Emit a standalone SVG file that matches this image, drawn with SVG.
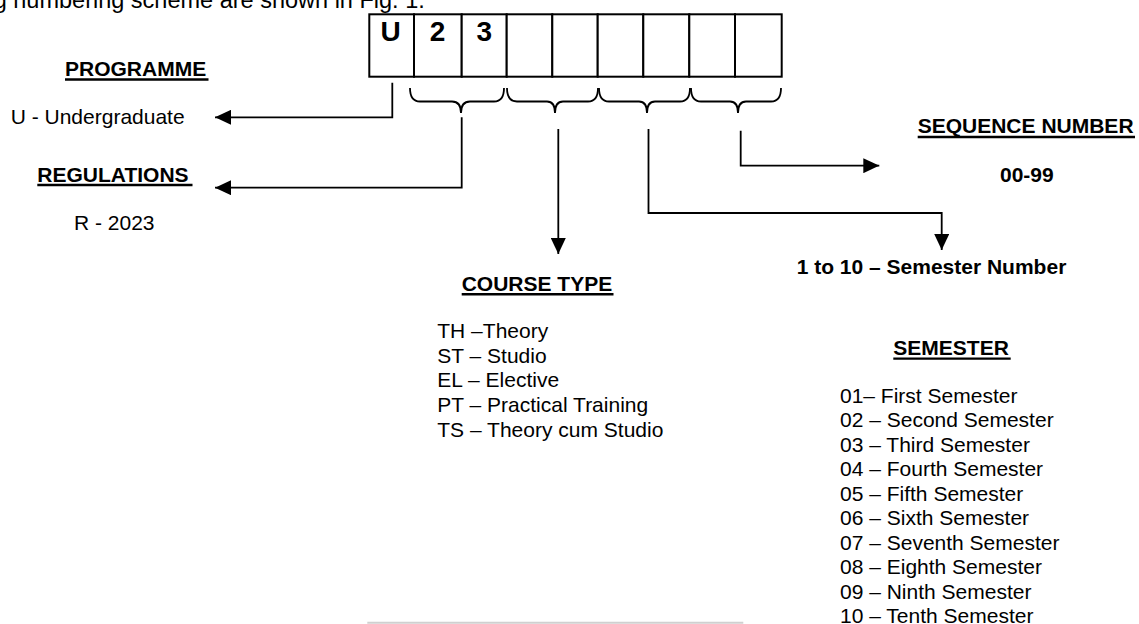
<svg xmlns="http://www.w3.org/2000/svg" width="1139" height="624" viewBox="0 0 1139 624">
<style>
text{font-family:"Liberation Sans",Arial,sans-serif;fill:#000}
.r{font-size:21px}
.b{font-size:21px;font-weight:bold}
.big{font-size:28px;font-weight:bold}
.ul{stroke:#000;stroke-width:2.4}
.cell{fill:#fff;stroke:#000;stroke-width:2}
.brace{fill:none;stroke:#000;stroke-width:1.8}
.con{fill:none;stroke:#000;stroke-width:1.8}
</style>
<defs>
<marker id="arr" markerUnits="userSpaceOnUse" markerWidth="16" markerHeight="15" refX="16" refY="7.5" orient="auto">
<path d="M0,0 L16,7.5 L0,15 z" fill="#000"/>
</marker>
</defs>
<rect width="1139" height="624" fill="#fff"/>
<text x="-6.3" y="8" style="font-size:23.5px">g numbering scheme are shown in Fig. 1.</text>

<g id="code-box">
<rect class="cell" x="369.3" y="14.3" width="44.7" height="62.4"/>
<rect class="cell" x="414" y="14.3" width="47.7" height="62.4"/>
<rect class="cell" x="461.7" y="14.3" width="45" height="62.4"/>
<rect class="cell" x="506.7" y="14.3" width="45.6" height="62.4"/>
<rect class="cell" x="552.3" y="14.3" width="45.4" height="62.4"/>
<rect class="cell" x="597.7" y="14.3" width="45.6" height="62.4"/>
<rect class="cell" x="643.3" y="14.3" width="46" height="62.4"/>
<rect class="cell" x="689.3" y="14.3" width="45.7" height="62.4"/>
<rect class="cell" x="735" y="14.3" width="46.7" height="62.4"/>
<text class="big" x="390.5" y="40.5" text-anchor="middle">U</text>
<text class="big" x="437.5" y="40.5" text-anchor="middle">2</text>
<text class="big" x="484.2" y="40.5" text-anchor="middle">3</text>
</g>

<g id="braces">
<path class="brace" d="M410,88 Q410,101.5 420,101.5 L452,101.5 Q461,101.5 461,113 Q461,101.5 470,101.5 L494,101.5 Q504,101.5 504,88"/>
<path class="brace" d="M507,88 Q507,101.5 517,101.5 L547,101.5 Q555,101.5 555,113 Q555,101.5 563,101.5 L588,101.5 Q598,101.5 598,88"/>
<path class="brace" d="M599,88 Q599,101.5 609,101.5 L639,101.5 Q647,101.5 647,113 Q647,101.5 655,101.5 L680,101.5 Q690,101.5 690,88"/>
<path class="brace" d="M691,88 Q691,101.5 701,101.5 L730,101.5 Q738,101.5 738,113 Q738,101.5 746,101.5 L771,101.5 Q781,101.5 781,88"/>
</g>

<g id="programme">
<text class="b" x="65" y="76">PROGRAMME</text>
<line class="ul" x1="65" y1="79.5" x2="208.5" y2="79.5"/>
<text class="r" x="10.7" y="124.3">U - Undergraduate</text>
</g>

<g id="regulations">
<text class="b" x="37.3" y="181.5">REGULATIONS</text>
<line class="ul" x1="37.3" y1="185" x2="192.5" y2="185"/>
<text class="r" x="74" y="230">R - 2023</text>
</g>

<g id="course-type">
<text class="b" x="461.7" y="290.7">COURSE TYPE</text>
<line class="ul" x1="461.7" y1="294.3" x2="613.5" y2="294.3"/>
<text class="r" x="437.3" y="338.3">TH –Theory</text>
<text class="r" x="437.3" y="362.8">ST – Studio</text>
<text class="r" x="437.3" y="387.3">EL – Elective</text>
<text class="r" x="437.3" y="411.8">PT – Practical Training</text>
<text class="r" x="437.3" y="436.5">TS – Theory cum Studio</text>
</g>

<g id="sequence-number">
<text class="b" x="917.7" y="132.7">SEQUENCE NUMBER</text>
<line class="ul" x1="917.7" y1="137" x2="1135" y2="137"/>
<text class="b" x="1000" y="181.7">00-99</text>
</g>

<g id="semester-number">
<text class="b" x="796.7" y="274">1 to 10 – Semester Number</text>
</g>

<g id="semester">
<text class="b" x="893.3" y="355">SEMESTER</text>
<line class="ul" x1="893.3" y1="358.6" x2="1010.7" y2="358.6"/>
<text class="r" x="840" y="402.7">01– First Semester</text>
<text class="r" x="840" y="427.2">02 – Second Semester</text>
<text class="r" x="840" y="451.7">03 – Third Semester</text>
<text class="r" x="840" y="476.2">04 – Fourth Semester</text>
<text class="r" x="840" y="500.7">05 – Fifth Semester</text>
<text class="r" x="840" y="525.2">06 – Sixth Semester</text>
<text class="r" x="840" y="549.7">07 – Seventh Semester</text>
<text class="r" x="840" y="574.2">08 – Eighth Semester</text>
<text class="r" x="840" y="598.7">09 – Ninth Semester</text>
<text class="r" x="840" y="622.5">10 – Tenth Semester</text>
</g>

<g id="connectors">
<path class="con" d="M392.3,82.7 V117.3 H215" marker-end="url(#arr)"/>
<path class="con" d="M461.7,117.3 V187.7 H215" marker-end="url(#arr)"/>
<path class="con" d="M558.3,129 V254" marker-end="url(#arr)"/>
<path class="con" d="M648.5,129 V213 H941.7 V250" marker-end="url(#arr)"/>
<path class="con" d="M740.7,130.7 V165.7 H879.3" marker-end="url(#arr)"/>
</g>

<line x1="367.3" y1="622.7" x2="743.3" y2="622.7" stroke="#d0d0d0" stroke-width="2"/>
</svg>
